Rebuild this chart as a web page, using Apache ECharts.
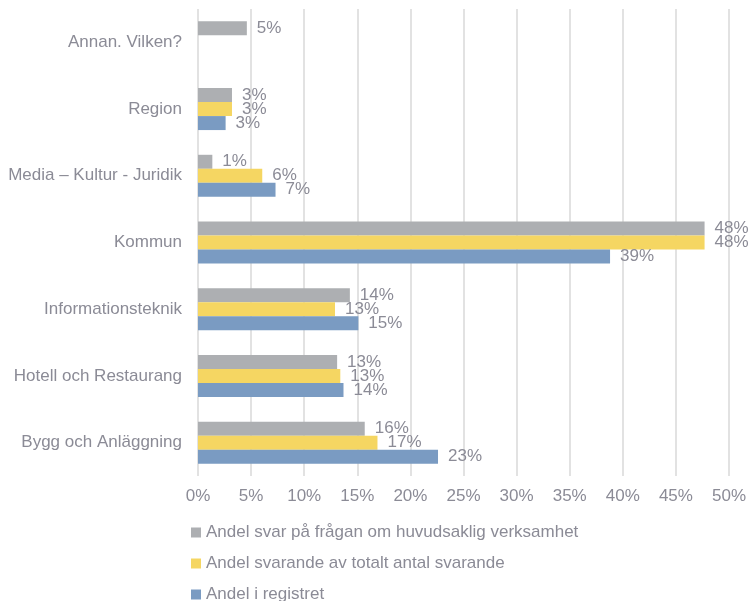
<!DOCTYPE html>
<html lang="sv">
<head>
    <meta charset="UTF-8">
    <title>Andel per verksamhet</title>
    <script src="https://cdn.jsdelivr.net/npm/echarts@6/dist/echarts.min.js"></script>
</head>
<body style="margin:0">
    <div id="chart-container" style="width: 750px; height: 601px;"></div>
    <script>
    // kategorier (nedifrån och upp)
    var categories = ['Bygg och Anläggning', 'Hotell och Restaurang', 'Informationsteknik', 'Kommun',
        'Media – Kultur - Juridik', 'Region', 'Annan. Vilken?'];

    // värden i procent
    var svarVerksamhet = [15.7, 13.1, 14.3, 47.7, 1.35, 3.2, 4.6];
    var svarandeTotalt = [16.9, 13.4, 12.9, 47.7, 6.05, 3.2, null];
    var iRegistret = [22.6, 13.7, 15.1, 38.8, 7.3, 2.6, null];

    var xTicks = { min: 0, max: 50, interval: 5 };

    var textGray = '#8b8b96';
    var fontSize = 17;

    function barSeries(name, data, color) {
        return {
            name: name,
            type: 'bar',
            data: data,
            barWidth: 14,
            barGap: '0%',
            itemStyle: { color: color },
            label: {
                show: true,
                position: 'right',
                distance: 10,
                color: textGray,
                fontSize: fontSize,
                fontFamily: 'Liberation Sans',
                formatter: function (p) { return Math.round(p.value) + '%'; }
            }
        };
    }

    var chart = echarts.init(document.getElementById('chart-container'));

    var option = {
        animation: false,
        grid: { left: 198, right: 21, top: 9, bottom: 125 },
        xAxis: {
            type: 'value',
            min: xTicks.min,
            max: xTicks.max,
            interval: xTicks.interval,
            axisLine: { show: false },
            axisTick: { show: false },
            splitLine: { lineStyle: { color: '#d9d9d9', width: 1.5 } },
            axisLabel: {
                color: textGray,
                fontSize: fontSize,
                fontFamily: 'Liberation Sans',
                margin: 12,
                formatter: '{value}%'
            }
        },
        yAxis: {
            type: 'category',
            data: categories,
            axisLine: { show: false },
            axisTick: { show: false },
            axisLabel: {
                color: textGray,
                fontSize: fontSize,
                fontFamily: 'Liberation Sans',
                margin: 16
            }
        },
        legend: {
            orient: 'vertical',
            left: 191,
            top: 524,
            height: 100,
            padding: 0,
            itemWidth: 10,
            itemHeight: 10,
            itemGap: 14,
            icon: 'rect',
            textStyle: { color: textGray, fontSize: fontSize, lineHeight: 17, fontFamily: 'Liberation Sans' },
            data: ['Andel svar på frågan om huvudsaklig verksamhet',
                'Andel svarande av totalt antal svarande',
                'Andel i registret']
        },
        series: [
            barSeries('Andel svar på frågan om huvudsaklig verksamhet', svarVerksamhet, '#adafb2'),
            barSeries('Andel svarande av totalt antal svarande', svarandeTotalt, '#f5d662'),
            barSeries('Andel i registret', iRegistret, '#7a9bc2')
        ]
    };

    chart.setOption(option);
    </script>
</body>
</html>
